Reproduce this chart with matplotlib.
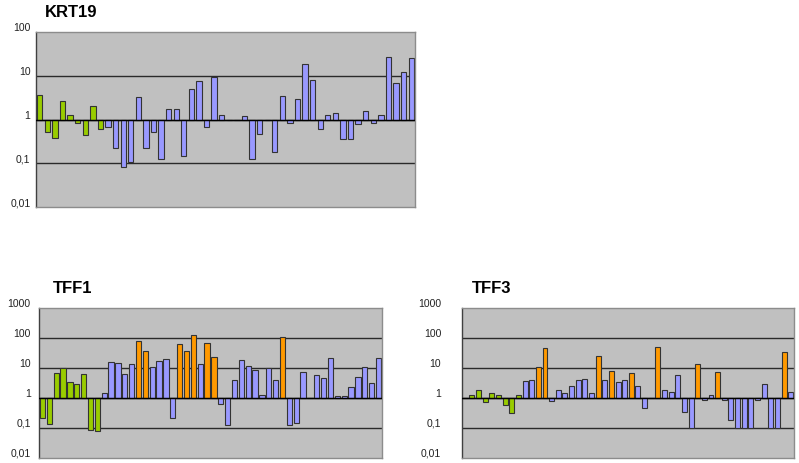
import matplotlib
matplotlib.use("Agg")
import matplotlib.pyplot as plt
import matplotlib.transforms as mtransforms
import numpy as np

plt.rcParams['font.family'] = ['Liberation Sans', 'DejaVu Sans']

# ---------------- data ----------------
krt19_values = [3.6, 0.51, 0.37, 2.7, 1.26, 0.85, 0.45, 2.0, 0.6,
                0.69, 0.22, 0.083, 0.108, 3.3, 0.22, 0.52, 0.125, 1.76, 1.76,
                0.15, 5.0, 7.4, 0.67, 9.2, 1.26, 0.97, 1.0, 1.22, 0.125,
                0.47, 1.0, 0.18, 3.4, 0.85, 2.9, 19, 8.0, 0.61, 1.24,
                1.42, 0.35, 0.35, 0.81, 1.55, 0.85, 1.24, 27, 6.8, 12.5, 25]
krt19_groups = "ggggggggg" + "b" * 41

tff1_values = [0.21, 0.14, 6.8, 9.8, 3.5, 3.0, 6.4, 0.086, 0.079,
               1.47, 16, 14.8, 6.4, 14, 77, 35.6, 11, 16.6, 20.5,
               0.21, 63, 35.6, 123, 13.6, 66, 24, 0.64, 0.13, 3.9,
               18, 11.4, 8.6, 1.3, 10.3, 4.0, 105, 0.13, 0.15, 7.3,
               0.97, 5.8, 4.8, 22.3, 1.2, 1.14, 2.35, 5.1, 11, 3.2, 22.3]
tff1_groups = ("ggggggggg" + "bbbbb" + "oo" + "bbbb" + "ooo" + "b" + "oo"
               + "bbbbbbbbb" + "o" + "b" * 14)

tff3_values = [1.0, 1.3, 1.9, 0.75, 1.5, 1.3, 0.6, 0.31, 1.23,
               3.6, 3.9, 10.8, 47, 0.79, 1.9, 1.5, 2.5, 4.1, 4.3,
               1.5, 25, 4.1, 8.1, 3.3, 4.0, 6.8, 2.5, 0.45, 1.0,
               52, 1.8, 1.6, 6.0, 0.35, 0.1, 14, 0.85, 1.25, 7.6,
               0.85, 0.18, 0.1, 0.1, 0.1, 0.85, 3.0, 0.1, 0.1, 35, 1.6]
tff3_groups = ("ggggggggg" + "bb" + "oo" + "bbbbbbb" + "o" + "b" + "o" + "bb"
               + "o" + "bbb" + "o" + "bbbbb" + "o" + "bb" + "o" + "bbbbbbbbb"
               + "o" + "b")

tick_values_small = [0.01, 0.1, 1, 10, 100]
tick_labels_small = ["0,01", "0,1", "1", "10", "100"]
tick_values_big = [0.01, 0.1, 1, 10, 100, 1000]
tick_labels_big = ["0,01", "0,1", "1", "10", "100", "1000"]

colors = {"g": "#99CC00", "b": "#9999FF", "o": "#FF9900"}

W, H = 799, 463
fig = plt.figure(figsize=(W / 100, H / 100), dpi=100)
fig.patch.set_facecolor("white")


def panel(rect_px, values, groups, ticks, labels, title, title_px,
          width, label_pad):
    l, t, r, b = rect_px
    ax = fig.add_axes([l / W, 1 - b / H, (r - l) / W, (b - t) / H])
    ax.set_facecolor("#C0C0C0")
    ax.set_yscale("log")
    ax.set_ylim(ticks[0], ticks[-1])
    n = len(values)
    ax.set_xlim(-0.5, n - 0.5)
    x = np.arange(n)
    v = np.array(values, dtype=float)
    cols = [colors[g] for g in groups]
    for gv in ticks[1:-1]:
        ax.axhline(gv, color="#2a2a2a", lw=1.0, zorder=1)
    ax.bar(x, v - 1, bottom=1, width=width, color=cols,
           edgecolor="#333333", linewidth=0.8, zorder=2)
    ax.axhline(1, color="black", lw=1.0, zorder=3)
    ax.set_xticks([])
    ax.set_yticks(ticks)
    ax.set_yticklabels(labels)
    ax.minorticks_off()
    ax.tick_params(axis="y", length=0, pad=label_pad, labelsize=7.5,
                   labelcolor="#222222")
    off = mtransforms.ScaledTranslation(0, 5 / 100, fig.dpi_scale_trans)
    for lab in ax.get_yticklabels():
        lab.set_transform(lab.get_transform() + off)
    for s in ["top", "right", "bottom"]:
        ax.spines[s].set_color("#8c8c8c")
        ax.spines[s].set_linewidth(1.0)
    ax.spines["left"].set_color("#404040")
    ax.spines["left"].set_linewidth(1.0)
    fig.text(title_px[0] / W, 1 - title_px[1] / H, title, fontsize=12,
             fontweight="bold", ha="left", va="baseline", color="black")
    return ax


panel((36, 32, 415, 207), krt19_values, krt19_groups, tick_values_small,
      tick_labels_small, "KRT19", (45, 17), 0.7, 4)
panel((39, 308, 382, 458), tff1_values, tff1_groups, tick_values_big,
      tick_labels_big, "TFF1", (53, 293), 0.77, 6)
panel((462, 308, 794, 458), tff3_values, tff3_groups, tick_values_big,
      tick_labels_big, "TFF3", (472, 293), 0.75, 15)

fig.savefig("out.png", dpi=100)
